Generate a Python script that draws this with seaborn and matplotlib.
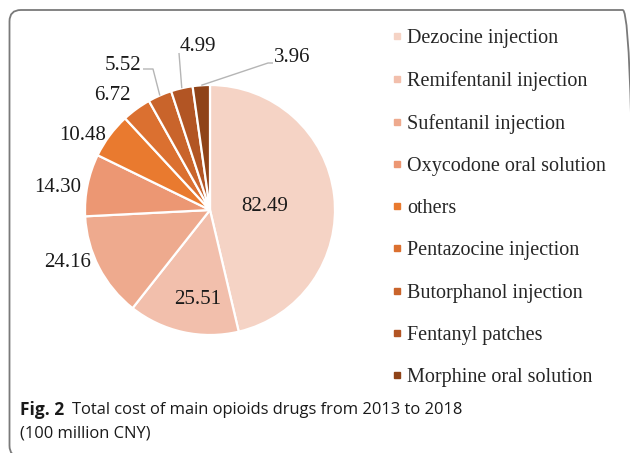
import numpy as np
import matplotlib
matplotlib.use("Agg")
import matplotlib.pyplot as plt
import seaborn as sns
from matplotlib.patches import FancyBboxPatch
from matplotlib.lines import Line2D

# ---------------- data ----------------
drugs = ["Dezocine injection", "Remifentanil injection", "Sufentanil injection",
         "Oxycodone oral solution", "others", "Pentazocine injection",
         "Butorphanol injection", "Fentanyl patches", "Morphine oral solution"]
costs = [82.49, 25.51, 24.16, 14.30, 10.48, 6.72, 5.52, 4.99, 3.96]
value_labels = ["82.49", "25.51", "24.16", "14.30", "10.48", "6.72", "5.52", "4.99", "3.96"]
colors = ["#F5D3C5", "#F2BFAC", "#EEAA8E", "#EC9773", "#E97A2F",
          "#DB7030", "#C9642B", "#B25524", "#8F4318"]

# ---------------- layout (label positions, in pie-radius units) ----------------
label_xy = [(0.44, 0.03), (-0.10, -0.72), (-1.14, -0.42), (-1.22, 0.18),
            (-1.02, 0.60), (-0.78, 0.92), (-0.70, 1.16), (-0.10, 1.31), (0.66, 1.22)]
# leader line anchor points (pie-radius units) for small slices: index -> list of points
leaders = {6: [(-0.456, 1.128), (-0.536, 1.128)],
           7: [(-0.248, 1.256)],
           8: [(0.464, 1.176), (0.504, 1.176)]}

sns.set_theme(style="white")
plt.rcParams["font.family"] = ["Liberation Serif", "DejaVu Serif"]

W, H = 630, 453
fig = plt.figure(figsize=(W / 100, H / 100), dpi=100)

# frame (rounded box, only top and left visible)
frame = FancyBboxPatch((9.5 / W, -4 / H), (634 - 9.5) / W, (443 + 4) / H,
                       boxstyle="round,pad=0,rounding_size=0.018",
                       transform=fig.transFigure, fill=False,
                       edgecolor="#7a7a7a", linewidth=1.3, clip_on=False,
                       mutation_aspect=W / H)
fig.patches.append(frame)

cx, cy, half = 210, 210, 150
ax = fig.add_axes([(cx - half) / W, (H - cy - half) / H, 2 * half / W, 2 * half / H])

wedges, _ = ax.pie(costs, colors=colors, startangle=90, counterclock=False,
                   radius=1.0, wedgeprops=dict(edgecolor="white", linewidth=1.6))
ax.set_xlim(-1.2, 1.2)
ax.set_ylim(-1.2, 1.2)
ax.axis("off")

for i, (w, lab) in enumerate(zip(wedges, value_labels)):
    x, y = label_xy[i]
    ax.text(x, y, lab, ha="center", va="center", fontsize=15, color="#1a1a1a")
    if i in leaders:
        mid = np.deg2rad((w.theta1 + w.theta2) / 2)
        pts = [(np.cos(mid), np.sin(mid))] + leaders[i]
        xs, ys = zip(*pts)
        ax.plot(xs, ys, color="#b5b5b5", lw=1.0, solid_capstyle="butt", clip_on=False)

handles = [Line2D([], [], marker="s", linestyle="none", markersize=4.5,
                  markerfacecolor=c, markeredgecolor=c) for c in colors]
fig.legend(handles, drugs, loc="upper left", bbox_to_anchor=(391 / W, 1 - 29 / H),
           frameon=False, fontsize=14.5, handlelength=0.6, handletextpad=0.2,
           labelspacing=1.145, borderaxespad=0, borderpad=0)

cap_font = ["Open Sans", "DejaVu Sans"]
fig.text(20 / W, 1 - 410 / H, "Fig. 2", fontsize=12.5, fontweight="bold",
         family=cap_font, va="center", ha="left", color="#1a1a1a")
fig.text(72 / W, 1 - 410 / H, "Total cost of main opioids drugs from 2013 to 2018",
         fontsize=11.9, family=cap_font, va="center", ha="left", color="#1a1a1a")
fig.text(20 / W, 1 - 434 / H, "(100 million CNY)", fontsize=11.9, family=cap_font,
         va="center", ha="left", color="#1a1a1a")

fig.savefig("out.png", dpi=100)
